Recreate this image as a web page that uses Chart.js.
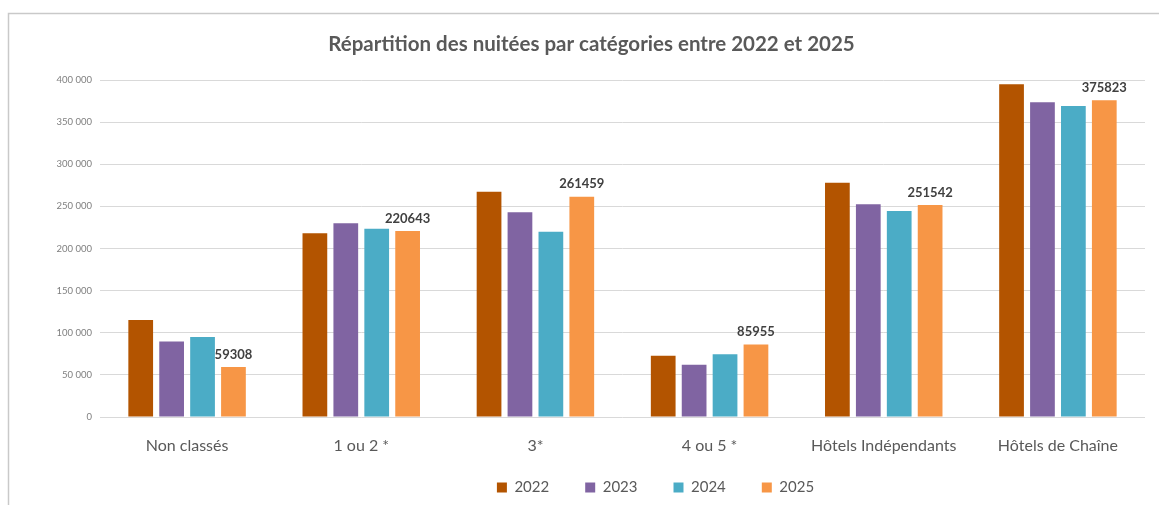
<!DOCTYPE html>
<html lang="fr">
<head>
    <meta charset="UTF-8">
    <title>Nuitées</title>
    <script src="https://cdn.jsdelivr.net/npm/chart.js@4.4.0/dist/chart.umd.min.js"></script>
    <style>
        body { margin: 0; background: #fff; }
    </style>
</head>
<body>
    <canvas id="chart" width="1159" height="505"></canvas>
    <script>

const categories = ['Non classés', '1 ou 2 *', '3*', '4 ou 5 *', 'Hôtels Indépendants', 'Hôtels de Chaîne'];
const years = ['2022', '2023', '2024', '2025'];
const values2022 = [115000, 218000, 267500, 72800, 278000, 395000];
const values2023 = [89500, 230000, 243000, 62000, 252500, 373500];
const values2024 = [95000, 223500, 220000, 74500, 244500, 369000];
const values2025 = [59308, 220643, 261459, 85955, 251542, 375823];
const yTicks = [0, 50000, 100000, 150000, 200000, 250000, 300000, 350000, 400000];

const colors = ['#B35400', '#8064A2', '#4BACC6', '#F79646'];
const font = 'Lato, "Open Sans", sans-serif';

// frame round the chart (only top and left show in the picture)
const frame = {
    id: 'frame',
    beforeDraw(chart) {
        const ctx = chart.ctx;
        ctx.save();
        ctx.fillStyle = '#fff';
        ctx.fillRect(0, 0, chart.width, chart.height);
        ctx.strokeStyle = '#c9c9c9';
        ctx.lineWidth = 1.5;
        ctx.beginPath();
        ctx.moveTo(8.5, chart.height);
        ctx.lineTo(8.5, 13.5);
        ctx.lineTo(chart.width, 13.5);
        ctx.stroke();
        ctx.restore();
    }
};

// legend keeps its wide item spacing but takes less height,
// and the original frame was wider than the crop, so title and legend sit right of centre
const shiftBoxes = {
    id: 'shiftBoxes',
    afterInit(chart) {
        const legend = chart.legend;
        const fit = legend.fit;
        legend.fit = function () {
            fit.call(this);
            this.height = 36;
        };
    },
    afterLayout(chart) {
        chart.titleBlock.left += 15;
        chart.titleBlock.right += 15;
        chart.legend.left += 79;
        chart.legend.right += 79;
        chart.legend.top -= 25;
    }
};

// value labels on the 2025 bars
const lastLabels = {
    id: 'lastLabels',
    afterDatasetsDraw(chart) {
        const ctx = chart.ctx;
        const meta = chart.getDatasetMeta(3);
        ctx.save();
        ctx.font = 'bold 13px ' + font;
        ctx.fillStyle = '#404040';
        ctx.textAlign = 'center';
        ctx.textBaseline = 'bottom';
        meta.data.forEach((bar, i) => {
            ctx.fillText(values2025[i], bar.x, bar.y - 6);
        });
        ctx.restore();
    }
};

const ctx = document.getElementById('chart').getContext('2d');
new Chart(ctx, {
    type: 'bar',
    data: {
        labels: categories,
        datasets: [values2022, values2023, values2024, values2025].map((vals, i) => ({
            label: years[i],
            data: vals,
            backgroundColor: colors[i],
            categoryPercentage: 0.71,
            barPercentage: 0.8
        }))
    },
    options: {
        responsive: false,
        animation: false,
        layout: { padding: { top: 14, left: 8, right: 14, bottom: 0 } },
        plugins: {
            title: {
                display: true,
                text: 'Répartition des nuitées par catégories entre 2022 et 2025',
                color: '#595959',
                font: { family: font, size: 20.5, weight: 'bold' },
                padding: { top: 17.7, bottom: 23.7 }
            },
            legend: {
                position: 'bottom',
                labels: {
                    color: '#595959',
                    font: { family: font, size: 15 },
                    boxWidth: 10,
                    boxHeight: 10,
                    padding: 36
                }
            },
            tooltip: { enabled: false }
        },
        scales: {
            x: {
                grid: { display: false },
                border: { display: false },
                ticks: { color: '#595959', font: { family: font, size: 16 }, padding: 11 },
                afterFit(scale) { scale.height = 52; }
            },
            y: {
                min: 0,
                max: 400000,
                afterBuildTicks(scale) { scale.ticks = yTicks.map(v => ({ value: v })); },
                grid: { color: '#d9d9d9', drawTicks: false },
                border: { display: false },
                ticks: {
                    color: '#7f7f7f',
                    font: { family: font, size: 9.5 },
                    padding: 8,
                    callback: v => v.toLocaleString('fr-FR').replace(/\u202f|\u00a0/g, ' ')
                },
                afterFit(scale) { scale.width = 92; }
            }
        }
    },
    plugins: [frame, shiftBoxes, lastLabels]
});

    </script>
</body>
</html>
